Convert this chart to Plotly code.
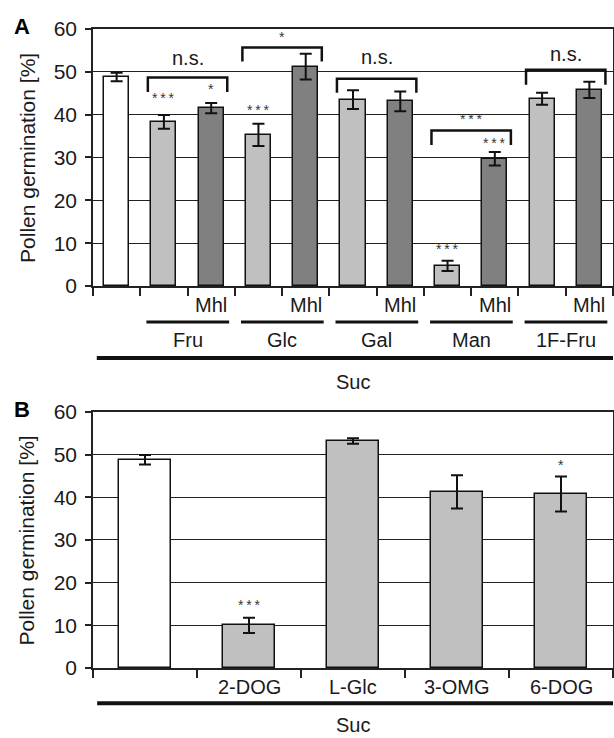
import plotly.graph_objects as go

# ---------------- Panel A data ----------------
a_values = [48.8, 38.3, 41.5, 35.3, 51.2, 43.5, 43.1, 4.7, 29.7, 43.7, 45.8]
a_errors = [1.0, 1.6, 1.2, 2.6, 3.0, 2.2, 2.3, 1.2, 1.6, 1.4, 1.9]
a_kind = ["suc", "sugar", "mhl", "sugar", "mhl", "sugar", "mhl", "sugar", "mhl", "sugar", "mhl"]
a_groups = ["Fru", "Glc", "Gal", "Man", "1F-Fru"]
a_star_text = ["", "***", "*", "***", "", "", "", "***", "***", "", ""]
a_star_y = [0, 43.9, 46.0, 41.1, 0, 0, 0, 8.6, 33.4, 0, 0]
# brackets: (left slot, right slot, top y, leg y, label, label y)
a_brackets = [
    (1, 2, 48.7, 45.3, "n.s.", 53.3),
    (3, 4, 55.7, 52.4, "*", 58.2),
    (5, 6, 48.4, 45.1, "n.s.", 53.5),
    (7, 8, 36.3, 32.9, "***", 39.0),
    (9, 10, 50.5, 47.0, "n.s.", 54.2),
]

# ---------------- Panel B data ----------------
b_labels = ["", "2-DOG", "L-Glc", "3-OMG", "6-DOG"]
b_values = [48.8, 10.0, 53.2, 41.3, 40.8]
b_errors = [1.1, 1.8, 0.65, 3.9, 4.1]
b_kind = ["suc", "sugar", "sugar", "sugar", "sugar"]
b_star_text = ["", "***", "", "", "*"]
b_star_y = [0, 14.7, 0, 0, 47.5]

y_ticks = [0, 10, 20, 30, 40, 50, 60]

colors = {"suc": "#ffffff", "sugar": "#c0c0c0", "mhl": "#808080"}
FONT = "Arial, Liberation Sans, sans-serif"
TXT = "#1a1a1a"


def star(s):
    return "\u2009".join(list(s)) if s else s


def ann(**kw):
    d = dict(showarrow=False, xanchor="center", yanchor="middle")
    d.update(kw)
    return d


fig = go.Figure()

a_x = list(range(len(a_values)))
fig.add_trace(go.Bar(
    x=a_x, y=a_values, width=0.53,
    marker=dict(color=[colors[k] for k in a_kind], line=dict(color="#111", width=1.5)),
    error_y=dict(type="data", array=a_errors, color="#111", thickness=2, width=6),
    xaxis="x", yaxis="y", showlegend=False,
))

b_x = list(range(len(b_values)))
fig.add_trace(go.Bar(
    x=b_x, y=b_values, width=0.5,
    marker=dict(color=[colors[k] for k in b_kind], line=dict(color="#111", width=1.5)),
    error_y=dict(type="data", array=b_errors, color="#111", thickness=2, width=6),
    xaxis="x2", yaxis="y2", showlegend=False,
))

annotations = []
shapes = []
STAR_FONT = dict(family=FONT, size=14, color="#333")
LAB_FONT = dict(family=FONT, size=20, color=TXT)

# ---- Panel A annotations ----
for i, (t, yv) in enumerate(zip(a_star_text, a_star_y)):
    if t:
        annotations.append(ann(x=i, y=yv, xref="x", yref="y", text=star(t), font=STAR_FONT))
for (l, r, top, leg, lab, ly) in a_brackets:
    x0, x1 = l - 0.34, r + 0.34
    shapes.append(dict(type="path", xref="x", yref="y",
                       path=f"M {x0},{leg} L {x0},{top} L {x1},{top} L {x1},{leg}",
                       line=dict(color="#111", width=2.5)))
    if lab.startswith("n"):
        annotations.append(ann(x=(l + r) / 2, y=ly, xref="x", yref="y", text=lab, font=LAB_FONT))
    else:
        annotations.append(ann(x=(l + r) / 2, y=ly, xref="x", yref="y", text=star(lab), font=STAR_FONT))

for gi, g in enumerate(a_groups):
    left, right = 1 + 2 * gi, 2 + 2 * gi
    annotations.append(ann(x=right, y=-0.074, xref="x", yref="y domain", text="Mhl", font=LAB_FONT))
    shapes.append(dict(type="line", xref="x", yref="y domain", x0=left - 0.37, x1=right + 0.38,
                       y0=-0.14, y1=-0.14, line=dict(color="#111", width=3)))
    annotations.append(ann(x=(left + right) / 2, y=-0.21, xref="x", yref="y domain", text=g,
                           font=LAB_FONT))
shapes.append(dict(type="line", xref="x", yref="y domain", x0=-0.42, x1=10.5, y0=-0.28, y1=-0.28,
                   line=dict(color="#111", width=4)))
annotations.append(ann(x=5, y=-0.374, xref="x", yref="y domain", text="Suc", font=LAB_FONT))

# ---- Panel B annotations ----
for i, (t, yv) in enumerate(zip(b_star_text, b_star_y)):
    if t:
        annotations.append(ann(x=i, y=yv, xref="x2", yref="y2", text=star(t), font=STAR_FONT))
for i, lab in enumerate(b_labels):
    if lab:
        annotations.append(ann(x=i, y=-0.074, xref="x2", yref="y2 domain", text=lab, font=LAB_FONT))
shapes.append(dict(type="line", xref="x2", yref="y2 domain", x0=-0.46, x1=4.5, y0=-0.138, y1=-0.138,
                   line=dict(color="#111", width=4)))
annotations.append(ann(x=2, y=-0.222, xref="x2", yref="y2 domain", text="Suc", font=LAB_FONT))

# ---- y titles and panel letters ----
for yd, letter in (("y domain", "A"), ("y2 domain", "B")):
    annotations.append(ann(x=-0.126, y=0.5, xref="paper", yref=yd, text="Pollen germination [%]",
                           textangle=-90, font=dict(family=FONT, size=21, color=TXT)))
    annotations.append(ann(x=-0.137, y=1.01, xref="paper", yref=yd, text=f"<b>{letter}</b>",
                           font=dict(family=FONT, size=22, color="#000")))

xcommon = dict(showline=True, linecolor="#222", linewidth=1.5, mirror=True, showgrid=False,
               ticks="outside", ticklen=8, tickwidth=1.5, tickcolor="#222", showticklabels=False,
               zeroline=False, domain=[0, 1])
ycommon = dict(range=[0, 60], tickvals=y_ticks, showline=True, linecolor="#222", linewidth=1.5,
               mirror=True, showgrid=True, gridcolor="#222", gridwidth=1, ticks="outside", ticklen=6,
               tickwidth=1.5, tickcolor="#222", zeroline=False,
               tickfont=dict(family=FONT, size=21, color=TXT), ticklabelstandoff=4)

fig.update_layout(
    width=614, height=738,
    margin=dict(l=93, r=1, t=0, b=0, autoexpand=False),
    plot_bgcolor="white", paper_bgcolor="white",
    xaxis=dict(xcommon, range=[-0.5, len(a_values) - 0.5],
               tickvals=[i - 0.5 for i in range(len(a_values) + 1)], anchor="y"),
    yaxis=dict(ycommon, domain=[0.6125, 0.9607], anchor="x"),
    xaxis2=dict(xcommon, range=[-0.5, len(b_values) - 0.5],
                tickvals=[i - 0.5 for i in range(len(b_values) + 1)], anchor="y2"),
    yaxis2=dict(ycommon, domain=[0.0949, 0.4417], anchor="x2"),
    annotations=annotations, shapes=shapes, bargap=0,
)

fig.write_html("out.html")
